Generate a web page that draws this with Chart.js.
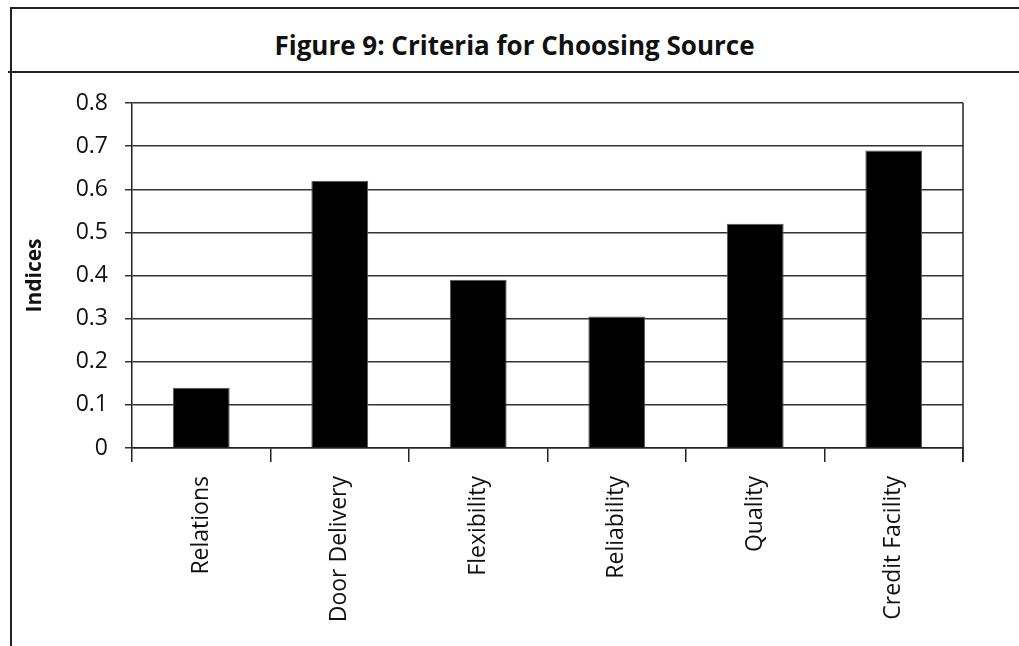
<!DOCTYPE html>
<html lang="en">

<head>
  <meta charset="UTF-8">
  <title>Figure 9: Criteria for Choosing Source</title>
  <script src="https://cdn.jsdelivr.net/npm/chart.js"></script>
  <style>
    html, body {
      margin: 0;
      padding: 0;
      background: #fff;
    }

    .page {
      position: relative;
      width: 1019px;
      height: 646px;
      overflow: hidden;
    }

    /* outer frame: left and top rules */
    .frame {
      position: absolute;
      left: 10px;
      top: 7px;
      right: -5px;
      bottom: -5px;
      border-left: 2px solid #222;
      border-top: 2px solid #222;
    }

    .rule {
      position: absolute;
      left: 8px;
      right: 0;
      top: 71px;
      border-top: 2px solid #222;
    }

    .fig-title {
      position: absolute;
      left: 10px;
      right: 0;
      top: 27px;
      text-align: center;
      font-family: "Open Sans", sans-serif;
      font-weight: bold;
      font-size: 26px;
      color: #111;
    }

    .chart-box {
      position: absolute;
      left: 0;
      top: 0;
      width: 1019px;
      height: 646px;
    }
  </style>
</head>

<body>
  <div class="page">
    <div class="frame"></div>
    <div class="rule"></div>
    <div class="fig-title">Figure 9: Criteria for Choosing Source</div>
    <div class="chart-box">
      <canvas id="criteriaChart"></canvas>
    </div>
  </div>

  <script>
    // Data
    const criteria = ['Relations', 'Door Delivery', 'Flexibility', 'Reliability', 'Quality', 'Credit Facility'];
    const indexValues = [0.14, 0.62, 0.39, 0.305, 0.52, 0.69];
    const yTicks = [0, 0.1, 0.2, 0.3, 0.4, 0.5, 0.6, 0.7, 0.8];

    const labelFont = { family: '"Open Sans", sans-serif', size: 23 };

    // right-hand frame line of the plot area
    const rightBorder = {
      id: 'rightBorder',
      afterDatasetsDraw(chart) {
        const { ctx, chartArea } = chart;
        ctx.save();
        ctx.strokeStyle = '#222';
        ctx.lineWidth = 1.5;
        ctx.beginPath();
        ctx.moveTo(chartArea.right, chartArea.top);
        ctx.lineTo(chartArea.right, chartArea.bottom + 14);
        ctx.stroke();
        ctx.restore();
      }
    };

    const criteriaChart = new Chart(document.getElementById('criteriaChart'), {
      type: 'bar',
      data: {
        labels: criteria,
        datasets: [{
          label: 'Indices',
          data: indexValues,
          backgroundColor: '#000',
          borderColor: '#555',
          borderWidth: 1,
          barPercentage: 0.41,
          categoryPercentage: 1.0
        }]
      },
      options: {
        responsive: true,
        maintainAspectRatio: false,
        animation: false,
        layout: {
          padding: { top: 103, right: 56, left: 18, bottom: 0 }
        },
        plugins: {
          legend: { display: false },
          tooltip: { enabled: false }
        },
        scales: {
          x: {
            offset: true,
            grid: {
              offset: true,
              drawOnChartArea: false,
              tickLength: 14,
              color: '#222',
              lineWidth: 1.5
            },
            border: { color: '#222', width: 1.5 },
            ticks: {
              font: labelFont,
              color: '#111',
              minRotation: 90,
              maxRotation: 90,
              padding: 14,
              autoSkip: false
            },
            afterFit(scale) {
              scale.height = 198;
            }
          },
          y: {
            min: 0,
            max: 0.8,
            afterBuildTicks(scale) {
              scale.ticks = yTicks.map(v => ({ value: v }));
            },
            grid: {
              color: '#333',
              lineWidth: 1.5,
              tickLength: 7
            },
            border: { color: '#222', width: 1.5 },
            ticks: {
              font: labelFont,
              color: '#111',
              padding: 17,
              callback: v => String(v)
            },
            title: {
              display: true,
              text: 'Indices',
              font: { family: '"Open Sans", sans-serif', size: 21, weight: 'bold' },
              color: '#111',
              padding: { top: 4, bottom: 0 }
            },
            afterFit(scale) {
              scale.width = 114;
            }
          }
        }
      },
      plugins: [rightBorder]
    });
  </script>
</body>

</html>
